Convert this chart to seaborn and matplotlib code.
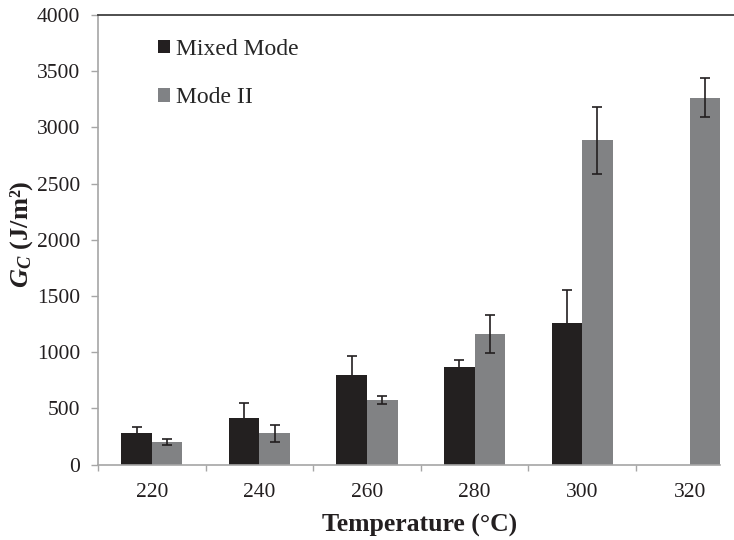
import matplotlib
matplotlib.use("Agg")
import matplotlib.pyplot as plt
from matplotlib.patches import Patch
from matplotlib.ticker import FixedLocator
import seaborn as sns
import numpy as np
import pandas as pd

temperatures = ["220", "240", "260", "280", "300", "320"]
mixed_mode = [285, 415, 798, 869, 1263, np.nan]
mixed_err = [50, 130, 165, 65, 290, np.nan]
mode_ii = [199, 279, 576, 1160, 2886, 3265]
mode_ii_err = [28, 76, 35, 170, 300, 175]
series = ["Mixed Mode", "Mode II"]
colors = ["#231F20", "#808285"]
yticks = [0, 500, 1000, 1500, 2000, 2500, 3000, 3500, 4000]

df = pd.DataFrame({
    "Temperature": temperatures * 2,
    "Series": [series[0]] * 6 + [series[1]] * 6,
    "Gc": mixed_mode + mode_ii,
    "err": mixed_err + mode_ii_err,
}).dropna()

sns.set_theme(style="white")
plt.rcParams["font.family"] = ["Liberation Serif", "DejaVu Serif"]
plt.rcParams["mathtext.fontset"] = "custom"
plt.rcParams["mathtext.rm"] = "Liberation Serif"
plt.rcParams["mathtext.it"] = "Liberation Serif:italic"
plt.rcParams["mathtext.bf"] = "Liberation Serif:bold"
plt.rcParams["mathtext.bfit"] = "Liberation Serif:bold:italic"

fig = plt.figure(figsize=(7.34, 5.40), dpi=100)
ax = fig.add_axes([98 / 734, 75.3 / 540, 645.6 / 734, 449.7 / 540])

sns.barplot(data=df, x="Temperature", y="Gc", hue="Series", order=temperatures,
            hue_order=series, palette=colors, width=0.567, errorbar=None,
            linewidth=0, ax=ax, legend=False)

errs = {series[0]: mixed_err, series[1]: mode_ii_err}
for cont, name in zip(ax.containers, series):
    for bar in cont:
        h = bar.get_height()
        if np.isnan(h):
            continue
        xc = bar.get_x() + bar.get_width() / 2
        idx = int(round(xc))
        e = errs[name][idx]
        if np.isnan(e):
            continue
        lower = 0 if name == series[0] else e
        eb = ax.errorbar(xc, h, yerr=[[lower], [e]], fmt="none", ecolor="#231F20",
                         elinewidth=1.2, capsize=3.8, capthick=1.2, zorder=5)
        if lower == 0:
            for cl in eb[1]:
                yd = np.asarray(cl.get_ydata(), dtype=float)
                if np.allclose(yd, h):
                    cl.set_visible(False)

ax.set_xlim(-0.5, 5.5)
ax.set_ylim(0, 4000)
ax.set_yticks(yticks)
ax.set_yticklabels([str(v) for v in yticks], fontsize=15.5)
ax.set_xticks(range(len(temperatures)))
ax.set_xticklabels(temperatures, fontsize=15.5)
ax.xaxis.set_minor_locator(FixedLocator(np.arange(-0.5, 5.6, 1.0)))
ax.tick_params(axis="x", which="major", length=0, pad=13, colors="#231F20")
ax.tick_params(axis="x", which="minor", bottom=True, length=4.5, width=1.0, color="#a6a6a6")
ax.tick_params(axis="y", which="major", left=True, length=5, width=1.0, color="#a6a6a6",
               pad=8, labelcolor="#231F20")

for s in ["left", "bottom"]:
    ax.spines[s].set_color("#a6a6a6")
    ax.spines[s].set_linewidth(1.2)
ax.spines["bottom"].set_bounds(-0.5, 5.283)
ax.spines["top"].set_visible(True)
ax.spines["top"].set_color("#404040")
ax.spines["top"].set_linewidth(1.3)
ax.spines["right"].set_visible(False)

ax.set_xlabel("Temperature (°C)", fontsize=18.5, fontweight="bold", color="#231F20")
ax.xaxis.set_label_coords((420 - 98) / 645.6, -(525 - 464.7) / 449.7)
ax.xaxis.label.set_va("center")
ax.set_ylabel(r"$\mathbfit{G}_{\mathbfit{C}}$ (J/m²)", fontsize=19, fontweight="bold",
              color="#231F20")
ax.yaxis.set_label_coords(-(98 - 22) / 645.6, (464.7 - 234) / 449.7)
ax.yaxis.label.set_va("center")

handles = [Patch(facecolor=c, edgecolor="none") for c in colors]
ax.legend(handles, series, loc="upper left", bbox_to_anchor=(0.078, 0.968),
          frameon=False, fontsize=17, handlelength=0.5, handleheight=0.5,
          handletextpad=0.25, labelspacing=1.17, borderaxespad=0)

fig.savefig("out.png", dpi=100)
